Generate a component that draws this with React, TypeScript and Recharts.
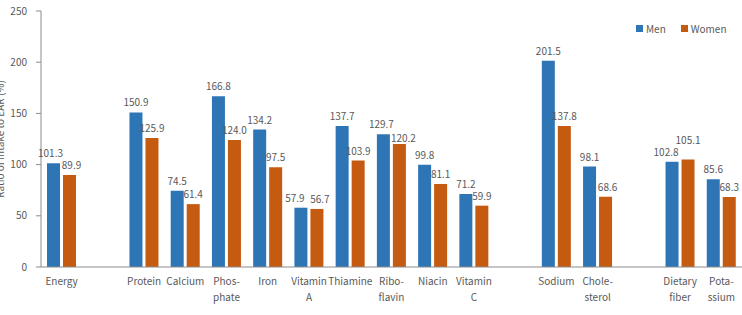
import React from 'react';
import { BarChart, Bar, XAxis, YAxis, LabelList, Label } from 'recharts';

// Nutrient categories; empty strings are spacer slots between groups
const CATEGORIES = [
  'Energy', '', 'Protein', 'Calcium', 'Phos-\nphate', 'Iron', 'Vitamin\nA', 'Thiamine',
  'Ribo-\nflavin', 'Niacin', 'Vitamin\nC', '', 'Sodium', 'Chole-\nsterol', '', 'Dietary\nfiber', 'Pota-\nssium',
];
const MEN = [101.3, null, 150.9, 74.5, 166.8, 134.2, 57.9, 137.7, 129.7, 99.8, 71.2, null, 201.5, 98.1, null, 102.8, 85.6];
const WOMEN = [89.9, null, 125.9, 61.4, 124.0, 97.5, 56.7, 103.9, 120.2, 81.1, 59.9, null, 137.8, 68.6, null, 105.1, 68.3];
const Y_TICKS = [0, 50, 100, 150, 200, 250];

const data = CATEGORIES.map((name, i) => ({ key: i, name, men: MEN[i], women: WOMEN[i] }));

const FONT = '"Noto Sans CJK KR", "Noto Sans", sans-serif';
const TEXT = '#595959';
const AXIS = '#8c8c8c';
const BLUE = '#2E75B6';
const ORANGE = '#C55A11';

// label nudges [dx, dy] per category index so neighbouring values don't collide
const MEN_NUDGE: Record<number, [number, number]> = { 0: [-3, 0], 6: [-6, 0], 8: [-2, 0], 15: [-6, 0] };
const WOMEN_NUDGE: Record<number, [number, number]> = { 0: [2, 0], 6: [3, 0], 8: [4, 4], 13: [2, 0], 15: [0, -9] };

function CategoryTick(props: any) {
  const { x, y, payload } = props;
  const lines = String(CATEGORIES[payload.value] ?? '').split('\n');
  return (
    <text x={x} y={y} textAnchor="middle" fontSize={10} fill={TEXT} fontFamily={FONT}>
      {lines.map((l, i) => (
        <tspan key={i} x={x} dy={i === 0 ? 10 : 16}>{l}</tspan>
      ))}
    </text>
  );
}

// LabelList is fed the category index; the printed number comes from the series array
function valueLabel(values: (number | null)[], nudge: Record<number, [number, number]>) {
  return (props: any) => {
    const { x, y, width, value } = props;
    const idx = Number(value);
    const v = values[idx];
    if (typeof v !== 'number') return null;
    const [dx, dy] = nudge[idx] ?? [0, 0];
    return (
      <text
        x={x + width / 2 + dx}
        y={y - 6 + dy}
        textAnchor="middle"
        fontSize={10}
        fill={TEXT}
        fontFamily={FONT}
      >
        {v.toFixed(1)}
      </text>
    );
  };
}

export default function App() {
  return (
    <div style={{ position: 'absolute', left: 0, top: 0, width: 742, height: 315, background: '#fff', fontFamily: FONT }}>
      <BarChart
        width={742}
        height={315}
        data={data}
        margin={{ top: 11, right: 0, bottom: 8, left: 0 }}
        barSize={13}
        barGap={3}
      >
        <XAxis
          dataKey="key"
          height={40}
          tick={<CategoryTick />}
          tickLine={false}
          axisLine={{ stroke: AXIS }}
          interval={0}
        />
        <YAxis
          width={41}
          domain={[0, 250]}
          ticks={Y_TICKS}
          tick={{ fontSize: 10, fill: TEXT, fontFamily: FONT }}
          tickSize={5}
          tickMargin={9}
          tickLine={{ stroke: AXIS }}
          axisLine={{ stroke: AXIS }}
        >
          <Label
            content={() => (
              <text
                x={4}
                y={139}
                transform="rotate(-90 4 139)"
                textAnchor="middle"
                fontSize={10}
                fill={TEXT}
                fontFamily={FONT}
              >
                Ratio of intake to EAR (%)
              </text>
            )}
          />
        </YAxis>
        <Bar dataKey="men" fill={BLUE} isAnimationActive={false}>
          <LabelList dataKey="key" content={valueLabel(MEN, MEN_NUDGE)} />
        </Bar>
        <Bar dataKey="women" fill={ORANGE} isAnimationActive={false}>
          <LabelList dataKey="key" content={valueLabel(WOMEN, WOMEN_NUDGE)} />
        </Bar>
      </BarChart>
      <div style={{ position: 'absolute', left: 636, top: 21, display: 'flex', alignItems: 'center', fontSize: 10, color: TEXT }}>
        <span style={{ width: 7, height: 7, background: BLUE, display: 'inline-block', marginRight: 3 }} />
        <span style={{ marginRight: 15 }}>Men</span>
        <span style={{ width: 7, height: 7, background: ORANGE, display: 'inline-block', marginRight: 3 }} />
        <span>Women</span>
      </div>
    </div>
  );
}
